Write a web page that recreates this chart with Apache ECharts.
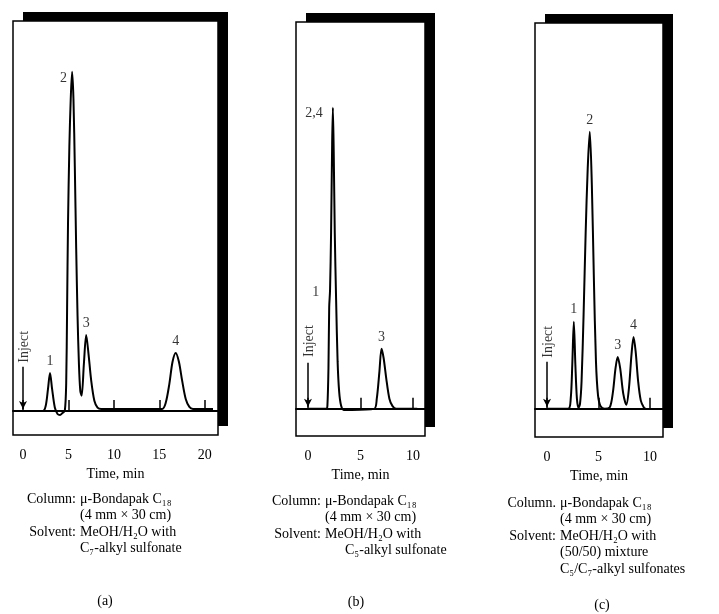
<!DOCTYPE html>
<html>
<head>
<meta charset="utf-8">
<script src="https://cdn.jsdelivr.net/npm/echarts@6/dist/echarts.min.js"></script>
<style>
  html, body { margin: 0; padding: 0; background: #fff; }
  #chart { width: 719px; height: 614px; }
</style>
</head>
<body>
<div id="chart"></div>
<script>
// detector response, relative units (tallest peak in (a) = 100), time in min
const traceA = [
  [0, 0], [2.2, 0], [2.5, 1.5], [2.75, 6.5], [2.97, 11.2], [3.2, 6.5], [3.5, 1], [3.8, -0.9],
  [4.07, -1.2], [4.35, -0.6], [4.6, 0], [4.75, 8], [4.85, 30], [4.95, 55], [5.1, 78], [5.25, 92],
  [5.4, 100], [5.55, 92], [5.7, 72], [5.85, 48], [6.0, 28], [6.15, 14], [6.3, 6], [6.45, 4.5],
  [6.7, 14], [6.95, 22.4], [7.2, 17], [7.5, 9], [7.85, 3], [8.2, 1], [8.6, 0.6], [15.3, 0.6],
  [15.7, 2.4], [16.1, 8], [16.45, 14.5], [16.8, 17.1], [17.15, 14.5], [17.5, 9], [17.9, 3.5],
  [18.3, 1.2], [18.7, 0.6], [20.9, 0.6]
];
const traceB = [
  [0, 0], [1.75, 0], [1.85, 1], [1.95, 12], [2.02, 30], [2.1, 35], [2.2, 52], [2.3, 78],
  [2.37, 88.8], [2.45, 76], [2.55, 52], [2.68, 32], [2.82, 14], [2.97, 5], [3.15, 1], [3.4, -0.3],
  [4.2, -0.3], [6.3, 0], [6.55, 3], [6.8, 11], [7.0, 17.7], [7.2, 15], [7.45, 9], [7.75, 3],
  [8.05, 0.8], [8.4, 0], [10.4, 0]
];
const traceC = [
  [0, 0], [2.05, 0], [2.3, 3], [2.45, 13], [2.6, 25.7], [2.75, 13], [2.9, 3], [3.05, 0.3],
  [3.2, 1.5], [3.35, 8], [3.55, 28], [3.75, 52], [3.95, 71], [4.15, 81.7], [4.35, 66], [4.55, 38],
  [4.75, 14], [4.95, 4], [5.2, 0.8], [5.6, 0], [6.1, 0.5], [6.4, 5], [6.65, 12], [6.86, 15.3],
  [7.1, 12], [7.4, 4.5], [7.7, 1.2], [7.95, 6], [8.2, 16], [8.4, 21.2], [8.6, 17], [8.85, 8],
  [9.1, 2.5], [9.4, 0.4], [9.6, 0]
];

// peak numbers: [name, time, height]
const peaksA = [['1', 2.97, 11.2], ['2', 5.4, 100], ['3', 6.95, 22.4], ['4', 16.8, 17.1]];
const peaksB = [['1', 2.02, 35], ['2,4', 2.37, 88.8], ['3', 7.0, 17.7]];
const peaksC = [['1', 2.6, 25.7], ['2', 4.15, 81.7], ['3', 6.86, 15.3], ['4', 8.4, 21.2]];

const ticksA = [0, 5, 10, 15, 20];
const ticksB = [0, 5, 10];
const ticksC = [0, 5, 10];

// injection marker: time, text level, arrow from / to
const injectA = [0, 18.9, 13, 0.6];
const injectB = [0, 20, 13.6, 0.6];
const injectC = [0, 19.8, 13.9, 0.6];

const captionA = ['Column:', 'μ-Bondapak C₁₈', '(4 mm × 30 cm)', 'Solvent:', 'MeOH/H₂O with', 'C₇-alkyl sulfonate'];
const captionB = ['Column:', 'μ-Bondapak C₁₈', '(4 mm × 30 cm)', 'Solvent:', 'MeOH/H₂O with', 'C₅-alkyl sulfonate'];
const captionC = ['Column.', 'μ-Bondapak C₁₈', '(4 mm × 30 cm)', 'Solvent:', 'MeOH/H₂O with', '(50/50) mixture', 'C₅/C₇-alkyl sulfonates'];

const FONT = "'Liberation Serif', 'Times New Roman', serif";

const panels = [
  { trace: traceA, peaks: peaksA, ticks: ticksA, inject: injectA,
    grid: { left: 13, top: 21, width: 205, height: 414 }, x: [-1.1, 21.45], y: [-7.1, 115] },
  { trace: traceB, peaks: peaksB, ticks: ticksB, inject: injectB,
    grid: { left: 296, top: 22, width: 129, height: 414 }, x: [-1.14, 11.14], y: [-8, 114.1] },
  { trace: traceC, peaks: peaksC, ticks: ticksC, inject: injectC,
    grid: { left: 535, top: 23, width: 128, height: 414 }, x: [-1.17, 11.26], y: [-8.3, 113.8] }
];

// label placement tweaks for the few numbers that sit beside the peak
const labelPos = {
  '0-2': { position: 'left', distance: 5, offset: [0, 6] },
  '1-1': { position: 'left', distance: 10, offset: [0, 2] },
  '1-2,4': { position: 'left', distance: 10, offset: [0, 6] }
};

const grids = [], xAxes = [], yAxes = [], series = [], shadows = [];

panels.forEach((p, i) => {
  grids.push(Object.assign({
    show: true, backgroundColor: '#fff', borderColor: '#000', borderWidth: 1.5
  }, p.grid));

  // the dark offset frame of the scanned plot paper
  shadows.push({
    type: 'rect', z: -1,
    shape: { x: p.grid.left + 10, y: p.grid.top - 9, width: p.grid.width, height: p.grid.height },
    style: { fill: '#000' }
  });

  xAxes.push({
    type: 'value', gridIndex: i, min: p.x[0], max: p.x[1],
    name: 'Time, min', nameLocation: 'middle', nameGap: 30,
    nameTextStyle: { color: '#000', fontFamily: FONT, fontSize: 14 },
    axisLine: { show: true, lineStyle: { color: '#000', width: 2 } },
    axisTick: { show: true, inside: true, length: 11, customValues: p.ticks, lineStyle: { color: '#000', width: 1.5 } },
    axisLabel: { customValues: p.ticks, margin: 13, color: '#000', fontFamily: FONT, fontSize: 14 },
    splitLine: { show: false }
  });

  yAxes.push({ type: 'value', gridIndex: i, min: p.y[0], max: p.y[1], show: false, splitLine: { show: false } });

  series.push({
    type: 'line', xAxisIndex: i, yAxisIndex: i, data: p.trace,
    showSymbol: false, smooth: 0.3, silent: true,
    lineStyle: { color: '#000', width: 2 },
    markLine: {
      silent: true, symbol: ['none', 'arrow'], symbolSize: [6, 8],
      label: { show: false },
      lineStyle: { color: '#000', width: 1.5, type: 'solid' },
      data: [[{ coord: [p.inject[0], p.inject[2]] }, { coord: [p.inject[0], p.inject[3]] }]]
    }
  });

  series.push({
    type: 'scatter', xAxisIndex: i, yAxisIndex: i, symbolSize: 0, silent: true,
    data: p.peaks.map(pk => {
      const extra = labelPos[i + '-' + pk[0]] || { position: 'top', distance: 5 };
      return { name: pk[0], value: [pk[1], pk[2]], label: extra };
    }),
    label: { show: true, formatter: '{b}', color: '#000', fontFamily: FONT, fontSize: 14 }
  });

  series.push({
    type: 'scatter', xAxisIndex: i, yAxisIndex: i, symbolSize: 0, silent: true,
    data: [{ value: [p.inject[0] + 0.15, p.inject[1]] }],
    label: { show: true, formatter: 'Inject', position: 'inside', rotate: 90,
      color: '#000', fontFamily: FONT, fontSize: 14 }
  });
});

// caption text under each panel
function caption(lines, indent, top, sub) {
  const els = [];
  const txt = (text, x, y, align) => els.push({
    type: 'text', x: x, y: y,
    style: { text: text, font: '14px ' + FONT, fill: '#000', align: align, verticalAlign: 'middle',
      textAlign: align, textVerticalAlign: 'middle' }
  });
  txt(lines[0], indent - 4, top, 'right');
  txt(lines[1], indent, top, 'left');
  txt(lines[2], indent, top + 16.5, 'left');
  txt(lines[3], indent - 4, top + 33, 'right');
  txt(lines[4], indent, top + 33, 'left');
  for (let k = 5; k < lines.length; k++) {
    txt(lines[k], indent + (sub || 0), top + 16.5 * (k - 2), 'left');
  }
  return els;
}

const label = (text, x, y) => ({
  type: 'text', x: x, y: y,
  style: { text: text, font: '14px ' + FONT, fill: '#000', align: 'center', verticalAlign: 'middle',
    textAlign: 'center', textVerticalAlign: 'middle' }
});

const graphics = [].concat(
  shadows,
  caption(captionA, 80, 499, 0),
  caption(captionB, 325, 501, 20),
  caption(captionC, 560, 503, 0),
  [label('(a)', 105, 601), label('(b)', 356, 602), label('(c)', 602, 605)]
);

const chart = echarts.init(document.getElementById('chart'));

const option = {
  animation: false,
  backgroundColor: '#fff',
  grid: grids,
  xAxis: xAxes,
  yAxis: yAxes,
  series: series,
  graphic: graphics
};

chart.setOption(option);
</script>
</body>
</html>
